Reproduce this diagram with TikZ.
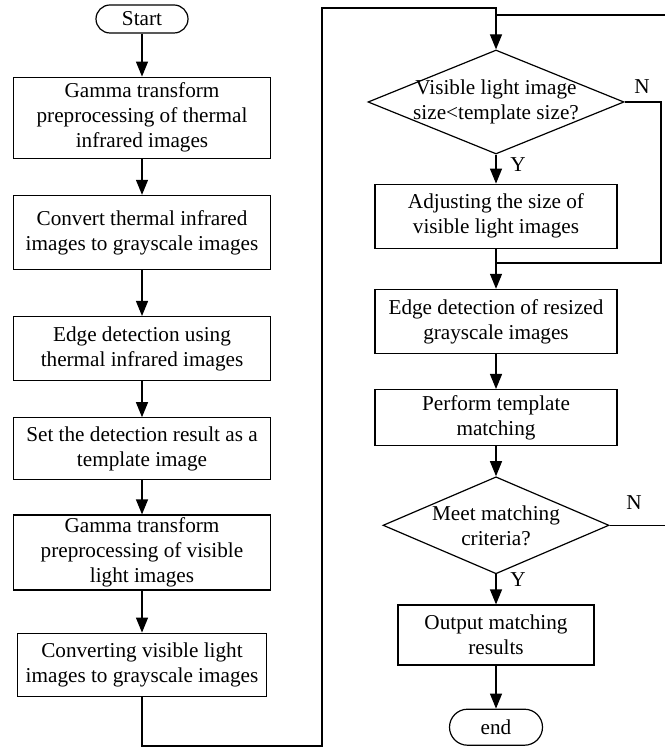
\documentclass[tikz,border=0pt]{standalone}
\usepackage{fontspec}
\setmainfont{Liberation Serif}
\usetikzlibrary{positioning,arrows.meta,shapes.geometric}

\begin{document}
\begin{tikzpicture}[
  x=0.5pt, y=-0.5pt, line width=0.6pt,
  font=\fontsize{10.6}{12.5}\selectfont,
  box/.style={draw, align=center, inner sep=1pt, minimum width=128.5pt},
  term/.style={draw, rounded corners=7pt, inner sep=1pt,
               minimum width=46pt, minimum height=14pt},
  decision/.style={draw, diamond, inner sep=0pt},
  dtext/.style={align=center, inner sep=0pt},
  lbl/.style={inner sep=0pt},
  arr/.style={-{Triangle[length=7.5pt, width=6pt]}},
]
\useasboundingbox (0,0) rectangle (664,747);

% ---- left column: thermal infrared, then visible light ----
\node[term] (start) at (142,19) {Start};
\node[box, minimum height=40.5pt, below=21.5pt of start] (b1)
  {Gamma transform\\preprocessing of thermal\\infrared images};
\node[box, minimum height=37pt, below=18pt of b1] (b2)
  {Convert thermal infrared\\images to grayscale images};
\node[box, minimum height=32pt, below=23pt of b2] (b3)
  {Edge detection using\\thermal infrared images};
\node[box, minimum height=31pt, below=18pt of b3] (b4)
  {Set the detection result as a\\template image};
\node[box, minimum height=37.5pt, below=17pt of b4] (b5)
  {Gamma transform\\preprocessing of visible\\light images};
\node[box, minimum width=124.5pt, minimum height=31.5pt, below=21pt of b5]
  (b6) {Converting visible light\\images to grayscale images};

% ---- right column: resize, match, output ----
\node[decision, minimum width=128pt, minimum height=52pt] (d1) at (496,102) {};
\node[dtext] (d1t) at (d1) {Visible light image\\size<template size?};
\node[box, minimum width=121pt, minimum height=32pt, below=14.5pt of d1] (adj)
  {Adjusting the size of\\visible light images};
\node[box, minimum width=121pt, minimum height=32pt, below=20pt of adj] (edge)
  {Edge detection of resized\\grayscale images};
\node[box, minimum width=121pt, minimum height=28pt, below=17.5pt of edge]
  (match) {Perform template\\matching};
\node[decision, minimum width=113pt, minimum height=48.5pt, below=15pt of match]
  (d2) {};
\node[dtext] (d2t) at (d2) {Meet matching\\criteria?};
\node[box, minimum width=98pt, minimum height=30pt, below=15pt of d2] (out)
  {Output matching\\results};
\node[term, minimum width=46.5pt, minimum height=18pt, rounded corners=9pt,
      below=21.5pt of out] (stop) {end};

% ---- Y / N labels ----
\node[lbl] (n1) at (642,87) {N};
\node[lbl] (y1) at (518,165) {Y};
\node[lbl] (n2) at (634,503) {N};
\node[lbl] (y2) at (518,580) {Y};

% ---- arrows ----
\draw[arr] (start) -- (b1);
\draw[arr] (b1) -- (b2);
\draw[arr] (b2) -- (b3);
\draw[arr] (b3) -- (b4);
\draw[arr] (b4) -- (b5);
\draw[arr] (b5) -- (b6);

% left column -> down, right, up and over into the first decision
\coordinate (c1) at (322,746);
\coordinate (c2) at (322,8);
\draw[arr] (b6.south) |- (c1) -- (c2) -| (d1.north);

\draw[arr] (d1) -- (adj);
\coordinate (j1) at (661,263);
\draw (d1.east) -| (j1) -- (j1 -| adj.south);
\draw[arr] (adj) -- (edge);
\draw[arr] (edge) -- (match);
\draw[arr] (match) -- (d2);
\draw[arr] (d2) -- (out);
\draw[arr] (out) -- (stop);

% not matched: back to the top
\coordinate (j2) at (666,15);
\draw (d2.east) -| (j2) -- (j2 -| d1.north);

\end{tikzpicture}
\end{document}
